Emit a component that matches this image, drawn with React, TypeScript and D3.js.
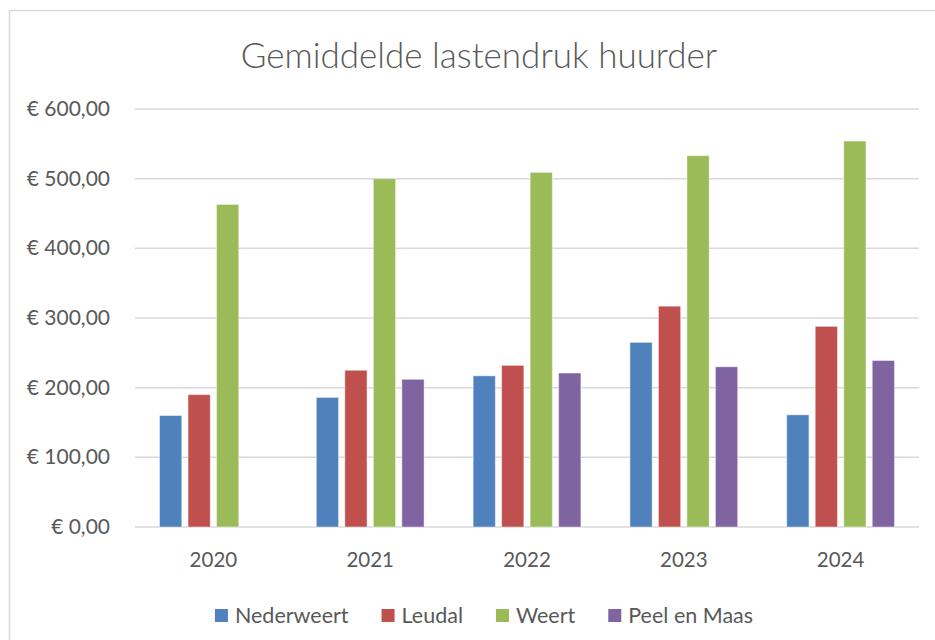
import React, { useEffect, useRef } from "react";
import * as d3 from "d3";

// chart data
const years = ["2020", "2021", "2022", "2023", "2024"];
const seriesNames = ["Nederweert", "Leudal", "Weert", "Peel en Maas"];
const nederweert = [160, 186, 217, 265, 161];
const leudal = [190, 225, 232, 317, 288];
const weert = [463, 500, 509, 533, 554];
const peelEnMaas = [null, 212, 221, 230, 239];
const yTicks = [0, 100, 200, 300, 400, 500, 600];
const colors = ["#4F81BD", "#C0504D", "#9BBB59", "#8064A2"];

const W = 935;
const H = 640;
const FONT = "Lato, 'Open Sans', sans-serif";
const TEXT = "#595959";

export default function App() {
  const ref = useRef<SVGSVGElement>(null);

  useEffect(() => {
    const svg = d3.select(ref.current);
    svg.selectAll("*").remove();

    const values = [nederweert, leudal, weert, peelEnMaas];
    const margin = { top: 109, right: 16, bottom: 113, left: 135 };
    const width = W - margin.left - margin.right;
    const height = H - margin.top - margin.bottom;

    // chart frame
    svg.append("rect")
      .attr("x", 9.5).attr("y", 10.5)
      .attr("width", 960).attr("height", 660)
      .attr("fill", "#fff").attr("stroke", "#d9d9d9").attr("stroke-width", 1.5);

    // title
    svg.append("text")
      .attr("x", 479).attr("y", 68)
      .attr("text-anchor", "middle")
      .attr("font-family", FONT).attr("font-size", 35)
      .attr("font-weight", 300)
      .attr("fill", TEXT)
      .text("Gemiddelde lastendruk huurder");

    const g = svg.append("g")
      .attr("transform", "translate(" + margin.left + "," + margin.top + ")");

    const x0 = d3.scaleBand().domain(years).range([0, width]).padding(0);
    const x1 = d3.scaleBand().domain(seriesNames)
      .range([0, x0.bandwidth()])
      .paddingInner(0.22).paddingOuter(0.86);
    const y = d3.scaleLinear().domain([0, 600]).range([height, 0]);

    // gridlines + y labels
    g.selectAll(".grid")
      .data(yTicks)
      .enter().append("line")
      .attr("x1", 0).attr("x2", width)
      .attr("y1", d => y(d)).attr("y2", d => y(d))
      .attr("stroke", "#d9d9d9").attr("stroke-width", 1.5);

    g.selectAll(".ylab")
      .data(yTicks)
      .enter().append("text")
      .attr("x", -25).attr("y", d => y(d) + 7)
      .attr("text-anchor", "end")
      .attr("font-family", FONT).attr("font-size", 21)
      .attr("fill", TEXT)
      .text(d => "€ " + d3.format(",.2f")(d).replace(".", ","));

    // bars
    values.forEach((vals, si) => {
      g.selectAll(".bar" + si)
        .data(years.map((yr, i) => ({ yr, v: vals[i] })).filter(d => d.v != null))
        .enter().append("rect")
        .attr("x", d => x0(d.yr)! + x1(seriesNames[si])!)
        .attr("y", d => y(d.v as number))
        .attr("width", x1.bandwidth())
        .attr("height", d => height - y(d.v as number))
        .attr("fill", colors[si])
        .attr("stroke", "#fff").attr("stroke-opacity", 0.45).attr("stroke-width", 1);
    });

    // x labels
    g.selectAll(".xlab")
      .data(years)
      .enter().append("text")
      .attr("x", d => x0(d)! + x0.bandwidth() / 2)
      .attr("y", height + 40)
      .attr("text-anchor", "middle")
      .attr("font-family", FONT).attr("font-size", 20.5)
      .attr("fill", TEXT)
      .text(d => d);

    // legend, centred on the frame
    const legend = svg.append("g");
    let cx = 0;
    seriesNames.forEach((name, i) => {
      const item = legend.append("g").attr("transform", "translate(" + cx + ",0)");
      item.append("rect")
        .attr("x", 0).attr("y", 609)
        .attr("width", 13).attr("height", 13)
        .attr("fill", colors[i]);
      const t = item.append("text")
        .attr("x", 20).attr("y", 623)
        .attr("font-family", FONT).attr("font-size", 21.5)
        .attr("fill", TEXT)
        .text(name);
      const tw = (t.node() as SVGTextElement).getComputedTextLength();
      cx += 20 + tw + 33;
    });
    const total = cx - 33;
    legend.attr("transform", "translate(" + (484 - total / 2) + ",0)");
  }, []);

  return (
    <svg
      ref={ref}
      width={W}
      height={H}
      style={{ position: "absolute", left: 0, top: 0, background: "#fff" }}
    />
  );
}
